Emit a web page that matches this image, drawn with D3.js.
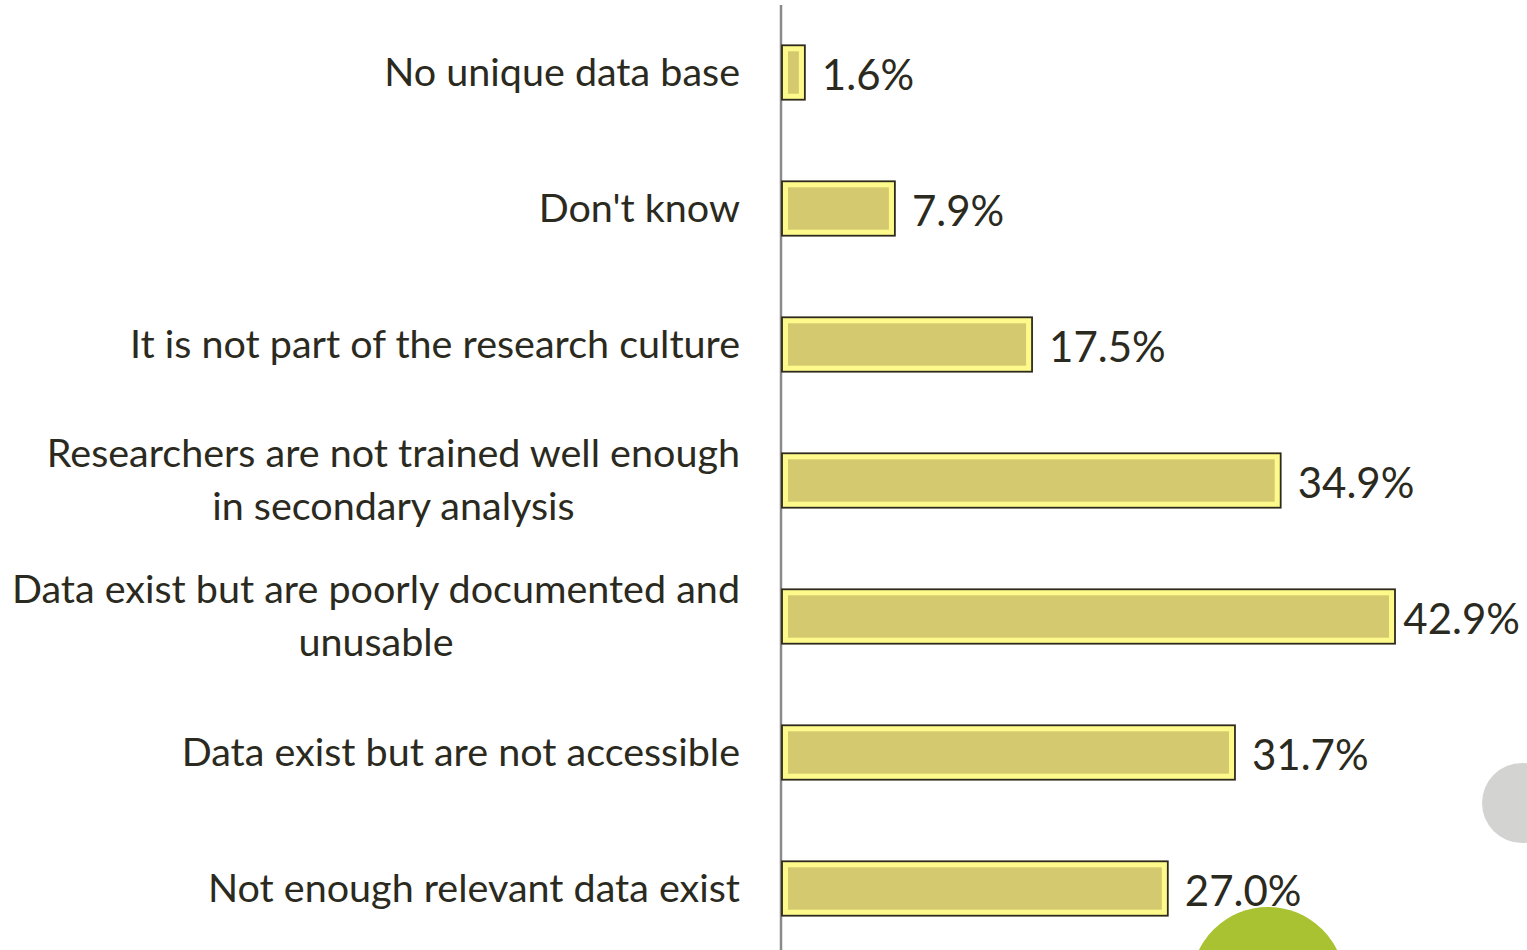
<!DOCTYPE html>
<html><head><meta charset="utf-8">
<script src="https://cdn.jsdelivr.net/npm/d3@7"></script>
<style>body{margin:0;background:#fff}</style>
</head><body>
<svg id="c" width="1527" height="950"></svg>
<script>
const categories = [
  ["No unique data base"],
  ["Don't know"],
  ["It is not part of the research culture"],
  ["Researchers are not trained well enough", "in secondary analysis"],
  ["Data exist but are poorly documented and", "unusable"],
  ["Data exist but are not accessible"],
  ["Not enough relevant data exist"]
];
const values = [1.6, 7.9, 17.5, 34.9, 42.9, 31.7, 27.0];
const valueLabels = ["1.6%", "7.9%", "17.5%", "34.9%", "42.9%", "31.7%", "27.0%"];

const svg = d3.select("#c");
const font = "Lato, 'Open Sans', sans-serif";
const textColor = "#2b2a20";
const x = d3.scaleLinear().domain([0, 42.9]).range([782, 1395]);
const y = d3.scaleBand().domain(d3.range(values.length)).range([4.5, 956.5]).paddingInner(0.6).paddingOuter(0.3);

// decorative circles
svg.append("circle").attr("cx", 1522).attr("cy", 803).attr("r", 40).attr("fill", "#d3d4d1");
svg.append("circle").attr("cx", 1268).attr("cy", 984).attr("r", 77).attr("fill", "#a8c232");

// axis line
svg.append("line").attr("x1", 781).attr("x2", 781).attr("y1", 5).attr("y2", 950)
  .attr("stroke", "#8a8a8a").attr("stroke-width", 2.5);

const g = svg.selectAll("g.bar").data(values).join("g").attr("class", "bar");
const bw = y.bandwidth();
g.append("rect")
  .attr("x", x(0)).attr("y", (d, i) => y(i))
  .attr("width", d => x(d) - x(0)).attr("height", bw)
  .attr("fill", "#fdf98a").attr("stroke", "#2e2b1c").attr("stroke-width", 1.8);
g.append("rect")
  .attr("x", x(0) + 6).attr("y", (d, i) => y(i) + 6)
  .attr("width", d => Math.max(2, x(d) - x(0) - 12)).attr("height", bw - 12)
  .attr("fill", "#d4c96e");
g.append("text")
  .attr("x", d => x(d) + 17).attr("y", (d, i) => y(i) + bw / 2 + 7)
  .attr("dominant-baseline", "middle")
  .attr("font-family", font).attr("font-size", 42).attr("fill", textColor)
  .text((d, i) => valueLabels[i])
  .each(function (d) {
    const w = this.getComputedTextLength();
    if (x(d) + 17 + w > 1520) d3.select(this).attr("x", 1520 - w);
  });

// category labels
categories.forEach((lines, i) => {
  const cy = y(i) + bw / 2 + 3;
  const lh = 53;
  const t = svg.append("text").attr("font-family", font).attr("font-size", 39.5).attr("fill", textColor);
  const tspans = lines.map((l, k) => t.append("tspan").text(l));
  const widths = tspans.map(s => s.node().getComputedTextLength());
  const maxW = d3.max(widths);
  const centerX = 740 - maxW / 2;
  tspans.forEach((s, k) => {
    s.attr("x", centerX).attr("text-anchor", "middle")
      .attr("y", cy + (k - (lines.length - 1) / 2) * lh)
      .attr("dominant-baseline", "middle");
  });
});
</script>
</body></html>
